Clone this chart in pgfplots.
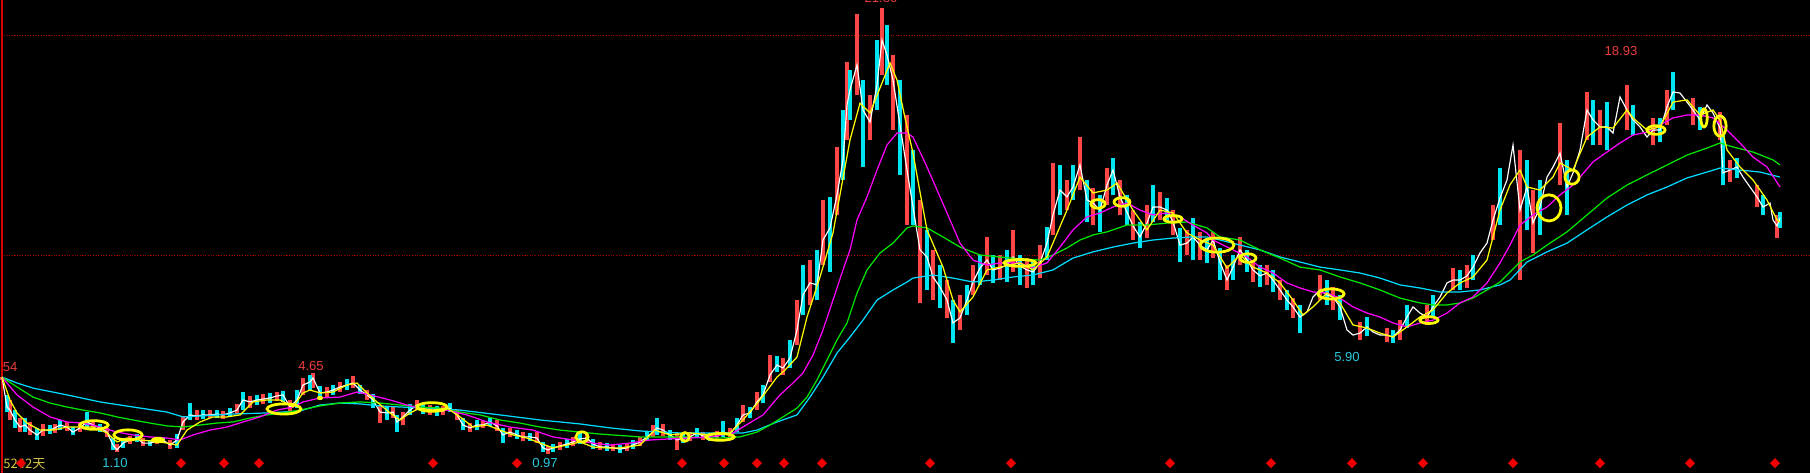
\documentclass[border=0pt]{standalone}
\usepackage{pgfplots}
\pgfplotsset{compat=1.18}
\usepackage{pgfplotstable}
\usepackage{fontspec}
\setmainfont{Liberation Sans}
\newfontfamily\cjk{Noto Sans CJK SC}
\definecolor{candlered}{RGB}{255,70,70}
\definecolor{candlecyan}{RGB}{0,230,240}
\definecolor{maY}{RGB}{255,255,0}
\definecolor{maM}{RGB}{255,0,255}
\definecolor{maG}{RGB}{0,230,0}
\definecolor{maC}{RGB}{0,220,255}
\definecolor{lblred}{RGB}{235,60,60}
\definecolor{lblcyan}{RGB}{40,200,220}
\definecolor{gridred}{RGB}{170,0,0}
\definecolor{khaki}{RGB}{215,195,70}
\definecolor{diamred}{RGB}{240,0,0}

% x = horizontal position (pixel column), c = close, h = high, l = low (price)
\pgfplotstableread{
x c h l
2 4.46 4.46 4.33
7 3.10 3.65 2.87
10 2.96 3.42 2.51
15 2.51 2.96 2.15
20 2.19 2.60 1.96
25 2.28 2.60 1.96
30 2.05 2.42 1.83
37 1.83 2.15 1.60
43 2.05 2.33 1.78
50 2.05 2.28 1.87
55 2.15 2.33 1.92
60 2.28 2.51 2.05
67 2.19 2.42 2.01
73 1.96 2.19 1.83
80 2.15 2.37 1.96
87 2.42 2.87 2.15
93 2.28 2.51 2.05
100 2.15 2.33 1.96
107 1.96 2.15 1.74
113 1.37 1.69 1.15
117 1.15 1.42 1.05
123 1.46 1.69 1.24
130 1.60 1.78 1.42
137 1.69 1.87 1.51
143 1.46 1.69 1.33
150 1.46 1.60 1.33
157 1.55 1.69 1.42
163 1.60 1.74 1.46
170 1.37 1.60 1.19
177 1.60 1.87 1.24
183 2.42 2.69 2.05
190 2.74 3.28 2.51
197 2.69 2.96 2.51
203 2.74 2.96 2.55
210 2.74 2.96 2.60
217 2.78 2.96 2.60
223 2.74 2.92 2.55
230 2.83 3.05 2.65
237 2.96 3.24 2.78
243 3.42 3.78 2.96
250 3.33 3.60 3.05
257 3.42 3.65 3.19
263 3.46 3.69 3.24
270 3.51 3.74 3.28
277 3.60 3.78 3.37
283 3.65 3.83 3.33
290 3.10 3.42 2.87
297 3.42 3.87 3.05
303 4.10 4.42 3.65
310 4.24 4.55 3.87
313 4.42 4.65 3.96
320 3.74 4.05 3.42
327 3.78 4.01 3.55
333 3.87 4.10 3.65
340 4.01 4.24 3.78
347 4.10 4.37 3.87
353 4.19 4.51 3.96
360 3.87 4.10 3.69
367 3.65 3.87 3.42
373 3.42 3.69 3.05
380 2.87 3.19 2.37
387 2.83 3.10 2.51
393 2.87 3.15 2.60
397 2.42 2.74 1.96
403 2.65 2.87 2.28
410 2.96 3.24 2.74
417 3.19 3.42 2.96
423 2.96 3.24 2.78
430 2.96 3.19 2.74
437 2.96 3.15 2.69
443 2.92 3.15 2.74
450 3.05 3.28 2.87
457 2.74 2.96 2.51
463 2.28 2.60 2.05
470 2.15 2.37 1.96
477 2.28 2.51 2.05
483 2.28 2.46 2.15
490 2.42 2.60 2.24
497 2.24 2.51 2.01
503 1.83 2.15 1.46
510 1.96 2.15 1.74
517 1.83 2.05 1.65
523 1.74 1.96 1.55
530 1.74 1.92 1.55
537 1.69 1.96 1.46
543 1.24 1.51 1.05
548 1.15 1.33 0.96
553 1.24 1.42 1.05
560 1.33 1.51 1.15
567 1.42 1.65 1.24
573 1.51 1.74 1.33
580 1.65 1.92 1.42
587 1.69 1.92 1.46
593 1.42 1.65 1.19
600 1.28 1.51 1.15
607 1.28 1.46 1.10
613 1.24 1.42 1.10
620 1.19 1.37 1.01
627 1.24 1.42 1.10
633 1.37 1.60 1.19
640 1.51 1.74 1.33
647 1.74 1.96 1.55
653 1.96 2.28 1.74
657 2.15 2.60 1.83
663 2.05 2.33 1.78
670 1.83 2.05 1.60
677 1.60 1.92 1.15
683 1.69 1.92 1.46
690 1.74 1.96 1.55
697 1.92 2.15 1.69
703 1.78 1.96 1.60
710 1.74 1.92 1.55
717 1.78 2.01 1.60
723 1.96 2.46 1.74
730 1.87 2.15 1.69
737 2.28 2.60 1.96
743 2.74 3.19 2.42
750 2.83 3.10 2.60
757 3.33 3.78 2.96
763 3.65 4.10 3.28
770 4.55 5.46 4.24
777 5.01 5.42 4.69
783 4.87 5.33 4.55
790 5.33 6.15 4.87
797 6.60 7.96 5.92
803 8.19 9.55 7.28
810 8.74 9.78 7.74
817 8.65 10.24 7.96
823 10.69 12.51 9.55
830 11.24 12.65 9.24
837 12.74 14.92 11.83
843 14.33 16.60 13.42
847 16.83 18.78 15.24
850 17.51 18.42 16.15
857 18.65 20.96 17.28
863 16.60 17.96 14.01
870 16.05 17.28 15.24
877 17.74 19.78 16.60
882 19.78 21.24 18.19
887 19.10 20.46 17.74
893 17.96 19.10 15.69
900 15.92 17.96 13.65
907 13.87 16.37 11.37
913 12.19 14.78 11.37
920 10.24 12.51 7.83
927 9.92 11.15 8.42
933 9.01 10.24 7.96
940 8.55 9.55 7.60
947 7.96 8.87 7.15
953 6.92 7.96 6.01
960 7.15 8.19 6.60
967 7.96 8.65 7.28
973 8.78 9.55 8.19
980 9.42 10.01 8.65
987 9.78 10.83 9.10
993 9.33 10.01 8.74
1000 9.42 10.01 8.87
1007 9.55 10.24 8.78
1013 9.92 11.15 9.24
1020 9.51 10.01 8.65
1027 9.33 9.87 8.51
1033 9.24 9.69 8.65
1040 9.65 10.46 8.96
1047 10.55 11.28 9.78
1053 11.83 14.19 10.92
1060 12.96 14.10 11.83
1067 12.65 13.42 12.05
1073 13.10 14.10 12.51
1080 14.10 15.37 12.96
1087 12.51 13.42 11.51
1093 12.37 13.06 11.37
1100 12.05 12.74 11.06
1107 13.19 13.96 12.28
1113 13.87 14.42 12.74
1120 12.65 13.42 11.83
1127 11.96 12.74 11.37
1133 11.33 12.05 10.69
1140 10.83 11.51 10.33
1147 11.46 12.28 10.78
1153 12.19 13.19 11.51
1160 12.19 12.87 11.60
1167 12.05 12.60 11.51
1173 11.51 12.05 10.92
1180 10.46 11.24 9.69
1187 10.55 11.15 10.01
1193 10.83 11.69 9.78
1200 10.46 11.06 9.78
1207 10.24 10.78 9.65
1213 10.69 11.06 9.87
1220 9.69 10.33 8.87
1227 8.87 9.55 8.42
1233 9.46 10.01 8.87
1240 10.24 10.83 9.55
1247 9.78 10.24 9.24
1253 9.33 9.78 8.78
1260 9.06 9.55 8.55
1267 9.19 9.55 8.65
1273 8.87 9.33 8.33
1280 8.42 8.87 7.96
1287 7.96 8.42 7.51
1293 7.65 8.05 7.15
1300 7.19 7.74 6.46
1307 7.42 7.83 6.96
1313 8.10 8.65 7.60
1320 8.42 9.10 7.96
1327 8.19 8.87 7.74
1333 8.10 8.55 7.51
1340 7.65 8.19 7.05
1347 6.60 7.42 5.87
1353 6.37 6.83 5.92
1360 6.46 6.96 6.15
1367 6.74 7.19 6.33
1373 6.51 6.83 6.15
1380 6.37 6.69 6.05
1387 6.37 6.69 6.05
1393 6.28 6.60 6.01
1400 6.60 7.05 6.15
1407 7.19 7.74 6.69
1413 7.65 8.05 7.15
1420 7.37 7.96 6.96
1427 7.19 7.74 6.83
1433 7.65 8.19 7.15
1440 8.10 9.46 7.51
1447 8.74 9.33 8.19
1453 8.87 9.42 8.42
1460 8.87 9.33 8.42
1467 9.06 9.55 8.51
1473 9.46 10.01 8.87
1480 10.10 10.55 9.42
1487 10.55 11.15 9.87
1493 11.60 12.28 10.69
1500 12.60 13.96 11.37
1507 13.42 15.46 12.51
1513 15.01 17.19 13.42
1520 12.05 14.78 8.87
1527 13.10 14.33 11.15
1533 11.46 12.96 10.10
1540 12.19 13.42 10.92
1547 13.55 14.10 12.05
1553 14.01 14.78 12.51
1560 14.64 16.01 13.19
1567 13.10 14.33 11.83
1573 13.74 14.78 12.51
1580 14.78 15.46 13.65
1587 16.60 17.42 15.24
1593 16.15 17.06 15.01
1600 15.83 16.60 15.01
1607 15.83 16.96 14.78
1613 15.55 16.37 14.78
1620 17.19 18.87 15.92
1627 16.60 17.74 15.69
1633 16.15 16.83 15.46
1640 15.83 16.46 15.24
1647 15.37 16.15 14.46
1653 15.69 16.24 15.01
1660 15.69 16.24 15.15
1667 16.74 17.51 15.92
1673 17.42 18.33 16.60
1680 17.37 17.96 16.69
1687 16.96 17.60 16.37
1693 16.60 17.15 15.92
1700 16.15 16.74 15.69
1707 16.83 17.15 16.15
1713 16.46 16.96 15.92
1720 15.78 16.51 15.24
1723 13.74 15.46 13.19
1730 13.87 14.33 13.33
1737 14.01 14.42 13.51
1743 13.55 14.10 13.06
1750 13.10 13.65 12.60
1757 12.65 13.19 12.19
1763 12.19 12.74 11.83
1770 12.37 13.33 11.83
1773 11.60 12.28 10.78
1777 11.33 11.83 10.78
1780 11.69 11.96 11.24
}\candles

\pgfplotstableread{
x y
2 4.46
10 3.42
17 2.83
27 2.37
40 2.05
53 2.05
67 2.19
80 2.19
93 2.19
107 1.92
117 1.51
127 1.69
140 1.60
153 1.55
167 1.46
177 1.37
187 2.05
200 2.42
213 2.65
227 2.65
240 2.74
253 3.33
267 3.42
280 3.42
293 3.10
303 3.74
310 3.87
320 3.74
333 3.78
347 4.10
357 4.19
367 3.74
377 3.33
390 2.83
400 2.51
410 2.83
420 3.05
433 2.96
447 3.05
460 2.65
473 2.19
487 2.28
500 2.05
513 1.83
527 1.69
540 1.46
553 1.24
567 1.37
580 1.51
593 1.28
607 1.24
620 1.24
640 1.37
655 2.05
670 1.83
690 1.92
710 1.83
730 1.92
743 2.51
760 3.42
777 4.46
785 4.78
797 5.37
807 7.19
820 9.01
833 11.01
850 15.24
860 16.91
870 16.46
890 18.74
897 17.96
905 16.24
913 14.64
920 12.87
927 11.15
943 9.46
953 7.96
960 7.42
973 8.10
987 9.33
1000 9.46
1020 9.65
1033 9.33
1047 9.92
1067 12.05
1080 13.55
1093 12.83
1107 12.96
1117 13.28
1133 12.05
1147 11.15
1160 12.05
1173 11.92
1187 11.01
1200 10.69
1213 10.46
1227 9.42
1240 10.01
1253 9.46
1267 9.19
1280 8.74
1293 7.96
1303 7.28
1313 7.65
1327 8.28
1340 7.83
1353 6.83
1367 6.69
1380 6.46
1393 6.28
1407 6.74
1420 7.19
1433 7.51
1447 8.28
1460 8.74
1473 9.01
1487 9.78
1500 12.05
1510 13.20
1520 13.87
1527 13.10
1540 12.96
1553 13.55
1560 14.19
1573 13.87
1587 15.37
1600 15.83
1613 15.78
1627 16.60
1633 16.24
1647 15.69
1660 15.83
1673 16.96
1687 17.06
1700 16.37
1713 16.60
1720 16.15
1727 14.78
1740 14.01
1753 13.42
1767 12.51
1777 11.60
1780 11.51
}\maYellow

\pgfplotstableread{
x y
2 4.46
17 3.65
33 3.10
50 2.65
67 2.42
83 2.37
100 2.19
117 1.96
133 1.83
150 1.74
167 1.69
180 1.60
193 1.83
210 2.05
227 2.19
243 2.42
260 2.65
277 2.96
293 3.10
303 3.33
320 3.51
340 3.55
357 3.78
370 3.65
390 3.42
407 3.19
427 2.96
447 2.96
467 2.74
487 2.42
510 2.19
533 2.05
553 1.74
573 1.60
593 1.46
610 1.37
630 1.46
650 1.60
670 1.65
690 1.69
710 1.74
733 1.92
763 2.74
780 3.65
793 4.19
803 4.65
813 5.46
823 6.60
833 7.96
843 9.33
850 10.24
857 11.60
867 12.65
877 13.87
887 15.01
897 15.55
907 15.55
913 15.37
927 14.01
947 11.92
960 10.55
973 9.78
987 9.55
1000 9.65
1020 9.65
1033 9.42
1047 9.65
1060 10.37
1073 11.15
1087 11.74
1100 11.92
1113 12.19
1127 12.37
1140 12.05
1153 11.83
1167 11.92
1180 11.74
1193 11.37
1207 11.01
1213 10.69
1233 10.24
1247 9.92
1260 9.46
1273 9.19
1287 8.74
1300 8.51
1313 8.33
1327 8.28
1340 8.05
1353 7.65
1367 7.37
1380 7.19
1393 6.92
1407 6.74
1420 6.92
1433 7.05
1447 7.37
1460 7.83
1473 8.10
1487 8.74
1500 9.65
1510 10.46
1520 11.37
1533 11.83
1547 12.19
1560 12.74
1573 13.19
1580 13.55
1593 14.24
1607 14.69
1620 15.10
1633 15.46
1647 15.60
1660 15.92
1673 16.24
1687 16.37
1700 16.37
1713 16.24
1727 15.69
1740 15.10
1753 14.46
1767 14.01
1780 13.10
}\maMagenta

\pgfplotstableread{
x y
2 4.46
17 4.01
33 3.55
50 3.28
67 3.10
83 2.96
100 2.83
117 2.65
133 2.51
150 2.37
167 2.24
183 2.19
200 2.28
217 2.37
233 2.42
250 2.60
267 2.74
283 2.83
300 2.96
320 3.15
340 3.28
360 3.33
380 3.28
400 3.19
420 3.10
440 3.05
460 2.87
480 2.74
500 2.51
520 2.37
540 2.19
560 2.05
580 1.96
600 1.87
640 1.74
680 1.74
720 1.69
740 1.74
757 1.96
770 2.28
783 2.65
797 3.05
807 3.55
817 4.33
827 5.24
837 6.15
847 6.92
857 8.28
867 9.33
880 10.10
893 10.55
907 11.24
913 11.33
927 11.24
943 10.83
960 10.37
980 10.01
1000 9.92
1020 9.83
1040 9.78
1053 10.01
1067 10.33
1080 10.69
1093 10.92
1107 11.06
1127 11.37
1147 11.37
1167 11.46
1187 11.51
1207 11.24
1220 10.83
1240 10.69
1260 10.24
1280 9.87
1300 9.46
1320 9.33
1340 9.01
1360 8.74
1380 8.42
1400 8.05
1420 7.83
1433 7.74
1447 7.74
1460 7.83
1473 8.05
1487 8.42
1500 8.78
1510 9.24
1520 9.69
1533 10.01
1547 10.46
1567 11.06
1587 11.83
1607 12.60
1627 13.19
1647 13.65
1667 14.10
1687 14.55
1707 14.87
1720 15.10
1733 14.92
1753 14.69
1773 14.33
1780 14.10
}\maGreen

\pgfplotstableread{
x y
2 4.46
17 4.19
33 3.96
67 3.65
100 3.33
133 3.10
167 2.87
183 2.65
200 2.69
233 2.78
267 2.83
300 2.92
320 3.19
340 3.28
360 3.24
380 3.15
400 3.10
430 3.05
460 2.96
500 2.74
540 2.51
580 2.33
610 2.15
640 2.01
680 1.92
720 1.92
743 1.92
757 2.05
777 2.42
797 2.74
810 3.55
823 4.46
837 5.55
850 6.28
863 7.05
877 7.96
893 8.42
907 8.78
913 8.96
933 9.10
953 8.96
973 8.78
993 8.87
1013 9.01
1033 9.10
1053 9.33
1073 9.87
1093 10.15
1113 10.37
1133 10.55
1153 10.69
1173 10.78
1193 10.83
1207 10.83
1220 10.69
1240 10.46
1260 10.24
1280 9.92
1300 9.69
1320 9.46
1340 9.33
1360 9.19
1380 8.96
1400 8.65
1420 8.51
1440 8.33
1460 8.33
1480 8.42
1500 8.65
1510 8.87
1527 9.69
1547 10.15
1567 10.55
1587 11.15
1607 11.74
1627 12.28
1647 12.74
1667 13.10
1687 13.51
1707 13.78
1720 13.96
1740 13.87
1760 13.78
1780 13.55
}\maCyan

\pgfplotstableread{
x y
21 0.55
181 0.55
224 0.55
259 0.55
433 0.55
517 0.55
682 0.55
724 0.55
757 0.55
784 0.55
822 0.55
930 0.55
1011 0.55
1170 0.55
1271 0.55
1352 0.55
1423 0.55
1513 0.55
1600 0.55
1690 0.55
1775 0.55
}\diamonds

\newcommand{\ring}[4]{\draw[maY, line width=1.8pt] (axis cs:#1,#2) ellipse [x radius=#3pt, y radius=#4pt];}
\newcommand{\blob}[4]{\fill[maY] (axis cs:#1,#2) ellipse [x radius=#3pt, y radius=#4pt];}

\begin{document}
\begin{tikzpicture}
\useasboundingbox (0,0) rectangle (1176.5pt,307.45pt);
\clip (0,0) rectangle (1176.5pt,307.45pt);
\fill[black] (0,0) rectangle (1176.5pt,307.45pt);
\begin{axis}[at={(0,0)}, anchor=south west, scale only axis,
  width=1176.5pt, height=307.45pt,
  xmin=0, xmax=1810, ymin=0.1, ymax=21.6, hide axis]

% reference lines
\draw[gridred, densely dotted, line width=0.7pt] (axis cs:4,20) -- (axis cs:1810,20);
\draw[gridred, densely dotted, line width=0.7pt] (axis cs:4,10) -- (axis cs:1810,10);
\draw[red!85!black, line width=1.1pt] (axis cs:2,0.1) -- (axis cs:2,21.6);

% candles (high-low)
\addplot[candlered, line width=2.6pt, quiver={u=0, v=\thisrow{h}-\thisrow{l}},
  x filter/.expression={mod(\coordindex,2)==0 ? x : nan}] table[x=x, y=l] {\candles};
\addplot[candlecyan, line width=2.6pt, quiver={u=0, v=\thisrow{h}-\thisrow{l}},
  x filter/.expression={mod(\coordindex,2)==1 ? x : nan}] table[x=x, y=l] {\candles};

% close line
\addplot[white, line width=0.75pt] table[x=x, y=c] {\candles};

% moving averages
\addplot[maC, line width=0.8pt] table[x=x, y=y] {\maCyan};
\addplot[maG, line width=0.8pt] table[x=x, y=y] {\maGreen};
\addplot[maM, line width=0.8pt] table[x=x, y=y] {\maMagenta};
\addplot[maY, line width=0.8pt] table[x=x, y=y] {\maYellow};

% markers (ellipses)
\ring{94}{2.28}{9.2}{2.8}
\ring{128}{1.83}{9.2}{3.3}
\blob{158}{1.60}{4.5}{2.0}
\ring{284}{3.01}{11.0}{3.3}
\ring{432}{3.10}{9.8}{2.8}
\ring{582}{1.74}{4.0}{3.3}
\ring{685}{1.74}{2.8}{2.8}
\ring{720}{1.74}{9.2}{2.2}
\ring{1020}{9.65}{10.4}{2.2}
\ring{1098}{12.33}{4.6}{2.8}
\ring{1122}{12.42}{5.2}{2.8}
\ring{1173}{11.65}{5.9}{2.2}
\ring{1217}{10.46}{11.0}{4.6}
\ring{1248}{9.87}{5.2}{2.8}
\ring{1331}{8.24}{8.5}{3.3}
\ring{1429}{7.05}{5.9}{2.2}
\ring{1549}{12.15}{7.8}{8.5}
\ring{1572}{13.55}{4.6}{4.6}
\ring{1656}{15.69}{5.9}{2.8}
\ring{1704}{16.24}{2.1}{5.9}
\ring{1720}{15.87}{4.0}{6.6}
\blob{320}{3.51}{2.0}{1.4}

% signal diamonds
\addplot[only marks, mark=square*, mark size=2.1pt, color=diamred,
  mark options={rotate=45, fill=diamred, draw=diamred}] table[x=x, y=y] {\diamonds};

% labels
\node[lblred, font=\fontsize{8.5}{10}\selectfont, anchor=west, inner sep=0pt] at (axis cs:2.5,4.92) {54};
\node[lblred, font=\fontsize{8.5}{10}\selectfont, inner sep=0pt] at (axis cs:311,4.96) {4.65};
\node[lblred, font=\fontsize{8.5}{10}\selectfont, inner sep=0pt] at (axis cs:881,21.69) {21.80};
\node[lblred, font=\fontsize{8.5}{10}\selectfont, inner sep=0pt] at (axis cs:1621,19.28) {18.93};
\node[lblcyan, font=\fontsize{8.5}{10}\selectfont, inner sep=0pt] at (axis cs:115,0.55) {1.10};
\node[lblcyan, font=\fontsize{8.5}{10}\selectfont, inner sep=0pt] at (axis cs:545,0.55) {0.97};
\node[lblcyan, font=\fontsize{8.5}{10}\selectfont, inner sep=0pt] at (axis cs:1347,5.37) {5.90};
\node[khaki, font=\cjk\fontsize{8.5}{10}\selectfont, anchor=west, inner sep=0pt] at (axis cs:3,0.51) {5242天};
\addplot[only marks, mark=square*, mark size=1.6pt, color=diamred,
  mark options={rotate=45, fill=diamred, draw=diamred}] coordinates {(21,0.55)};
\end{axis}
\end{tikzpicture}
\end{document}
